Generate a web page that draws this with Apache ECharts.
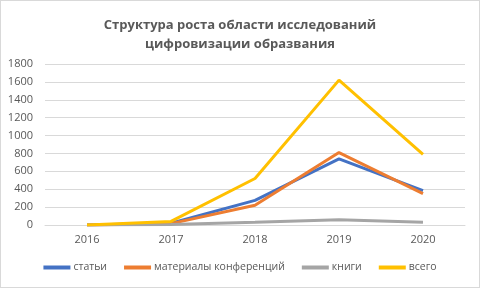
<!DOCTYPE html>
<html><head><meta charset="utf-8">
<script src="https://cdn.jsdelivr.net/npm/echarts@6/dist/echarts.min.js"></script>
<style>html,body{margin:0;padding:0;background:#fff}#c{width:478px;height:286px;border:1px solid #d9d9d9}</style>
</head><body><div id="c"></div>
<script>
const categories = ['2016','2017','2018','2019','2020'];
const stati = [0, 20, 275, 740, 385];
const materialy = [0, 15, 220, 810, 350];
const knigi = [0, 5, 30, 60, 30];
const vsego = [0, 40, 520, 1620, 790];
const seriesNames = ['статьи','материалы конференций','книги','всего'];
const colors = ['#4472c4','#ed7d31','#a5a5a5','#ffc000'];
const yTicks = [0,200,400,600,800,1000,1200,1400,1600,1800];

const chart = echarts.init(document.getElementById('c'));
const font = 'Open Sans, Noto Sans, sans-serif';
const dataSets = [stati, materialy, knigi, vsego];
chart.setOption({
  animation:false,
  color: colors,
  title:{text:'Структура роста области исследований\nцифровизации образвания', left:'center', top:10,
    textStyle:{fontFamily:font, fontSize:13, fontWeight:'bold', color:'#595959', lineHeight:19}},
  grid:{left:44, right:14, top:63, bottom:62, containLabel:false},
  legend:{bottom:9, left:'center', itemWidth:27, itemHeight:4, itemGap:17,
    icon:'rect',
    textStyle:{fontFamily:font, fontSize:10.5, color:'#595959', padding:[0,0,0,-2]},
    data: seriesNames},
  xAxis:{type:'category', data:categories, boundaryGap:true,
    axisLine:{lineStyle:{color:'#d9d9d9'}}, axisTick:{show:false},
    axisLabel:{fontFamily:font, fontSize:11, color:'#595959', margin:9}},
  yAxis:{type:'value', min:yTicks[0], max:yTicks[yTicks.length-1], interval:200,
    axisLine:{show:false}, axisTick:{show:false},
    splitLine:{lineStyle:{color:'#d9d9d9'}},
    axisLabel:{fontFamily:font, fontSize:11, color:'#595959', margin:12, formatter:v=>String(v)}},
  series: seriesNames.map((n,i)=>({name:n, type:'line', data:dataSets[i], symbol:'none',
    lineStyle:{width:3, color:colors[i]}, itemStyle:{color:colors[i]}}))
});
</script></body></html>
